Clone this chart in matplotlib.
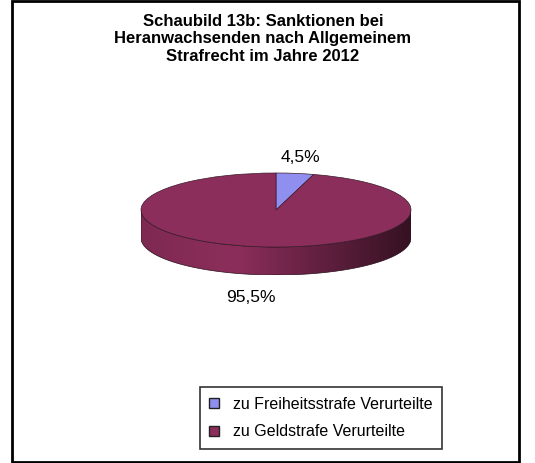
import numpy as np
import matplotlib
matplotlib.use("Agg")
import matplotlib.pyplot as plt
from matplotlib.patches import Patch, Rectangle, Polygon

plt.rcParams['font.family'] = ['Liberation Sans', 'DejaVu Sans']

# data
title = "Schaubild 13b: Sanktionen bei\nHeranwachsenden nach Allgemeinem\nStrafrecht im Jahre 2012"
labels = ["zu Freiheitsstrafe Verurteilte", "zu Geldstrafe Verurteilte"]
values = [4.5, 95.5]
colors = ["#8f8fef", "#8c2e5b"]

W, H = 535, 463
fig = plt.figure(figsize=(W / 100, H / 100), dpi=100)

# outer chart frame
fig.patches.append(Rectangle((12 / W, 1 - 462 / H), (519 - 12) / W, 461 / H,
                             transform=fig.transFigure, fill=False,
                             edgecolor="black", linewidth=2))

fig.text(263 / W, 1 - 39 / H, title, ha="center", va="center",
         fontsize=12, fontweight="bold", linespacing=1.18)

# pie area in pixels: center (276,210), rx 135, ry 37, depth 28
cx, cy, rx, ry, depth = 276, 210, 135, 37, 28
dz = depth / ry
ax = fig.add_axes([(cx - rx) / W, 1 - (cy + ry + depth) / H,
                   2 * rx / W, (2 * ry + depth) / H])
wedges, _ = ax.pie(values, colors=colors, startangle=90, counterclock=False,
                   radius=1, wedgeprops=dict(edgecolor="#3a1a2a", linewidth=0.5))
for w in wedges:
    w.set_zorder(3)


def side_color(c, t):
    rgb = np.array(matplotlib.colors.to_rgb(c))
    f = np.interp(t, [0, 0.35, 1], [0.9, 1.0, 0.38])
    return np.clip(rgb * f, 0, 1)


# visible side of the disc (front half, angles -180..0)
for w, c in zip(wedges, colors):
    spans = []
    for k in (-720, -360, 0, 360):
        s = max(w.theta1 + k, -180)
        e = min(w.theta2 + k, 0)
        if e > s:
            spans.append((s, e))
    for s, e in spans:
        th = np.radians(np.linspace(s, e, 200))
        top = np.column_stack([np.cos(th), np.sin(th)])
        bot = top - [0, dz]
        poly = Polygon(np.vstack([top, bot[::-1]]), closed=True,
                       facecolor="none", edgecolor="#2a0f1c", linewidth=0.5,
                       zorder=2)
        ax.add_patch(poly)
        grad = np.array([side_color(c, t) for t in np.linspace(0, 1, 256)])[None, :, :]
        im = ax.imshow(grad, extent=[-1, 1, -1 - dz, 0], aspect="auto", zorder=1)
        im.set_clip_path(poly)

ax.set_aspect("auto")
ax.set_xlim(-1, 1)
ax.set_ylim(-1 - dz, 1)
ax.axis("off")

# percentage labels
for v, (lx, ly) in zip(values, [(300, 157), (251, 297)]):
    fig.text(lx / W, 1 - ly / H, f"{v:.1f}%".replace(".", ","),
             ha="center", va="center", fontsize=12.5)

handles = [Patch(facecolor=c, edgecolor="#222222", linewidth=1) for c in colors]
leg = fig.legend(handles, labels, loc="center",
                 bbox_to_anchor=(321 / W, 1 - 418 / H), fontsize=11.5,
                 frameon=True, fancybox=False, handlelength=0.6,
                 handleheight=0.6, handletextpad=0.9, labelspacing=0.8,
                 borderpad=0.6, borderaxespad=0)
leg.get_frame().set_edgecolor("black")
leg.get_frame().set_linewidth(1.2)

fig.savefig("out.png", dpi=100)
